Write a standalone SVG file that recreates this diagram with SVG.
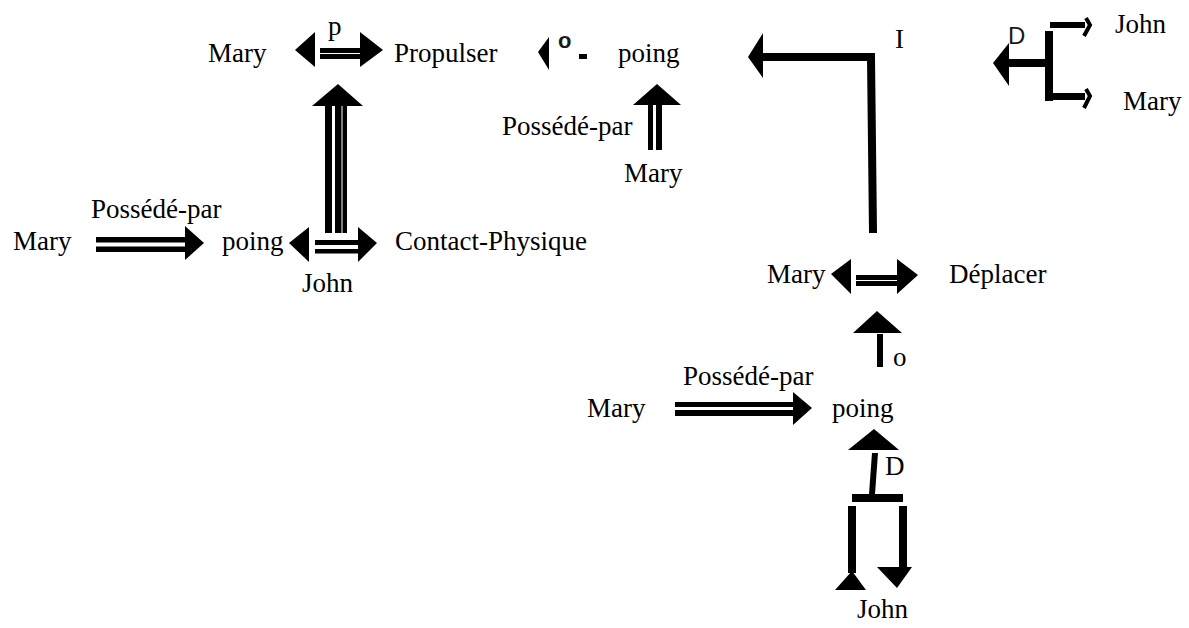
<svg xmlns="http://www.w3.org/2000/svg" width="1189" height="628" viewBox="0 0 1189 628">
<style>
text{font-family:"Liberation Serif","Times New Roman",serif;font-size:27px;fill:#000}
.sans{font-family:"Liberation Sans",Arial,sans-serif;font-size:24px;fill:#1a1a1a}
.sansb{font-family:"Liberation Sans",Arial,sans-serif;font-size:22px;font-weight:bold;fill:#1a1a1a}
#connectors polygon,#connectors rect{fill:#000}
.barb{fill:none;stroke:#000;stroke-width:4}
</style>
<rect width="1189" height="628" fill="#fff"/>
<g id="connectors">
  <g id="c-mary-propulser">
    <polygon points="295,50 315,32 315,67"/>
    <rect x="320" y="48" width="40" height="5"/>
    <rect x="320" y="54" width="40" height="5"/>
    <polygon points="360,32 383,50 360,67"/>
  </g>
  <g id="c-contact-propulser">
    <polygon points="338,84 312,106 363,106"/>
    <rect x="325" y="106" width="7" height="127"/>
    <rect x="335" y="106" width="6.5" height="127"/>
    <rect x="342.5" y="106" width="4.5" height="127"/>
  </g>
  <g id="c-mary-poing-left">
    <rect x="96" y="237" width="89" height="5.5"/>
    <rect x="96" y="246.5" width="89" height="5.5"/>
    <polygon points="185,226 204,243 185,260"/>
  </g>
  <g id="c-poing-contact">
    <polygon points="289,243 309,227 309,262"/>
    <rect x="315" y="240" width="43" height="5"/>
    <rect x="315" y="249" width="43" height="4.5"/>
    <polygon points="358,227 377,243 358,262"/>
  </g>
  <g id="c-o-poing">
    <polygon points="538,52 549,37 549,70"/>
    <rect x="579" y="54" width="8" height="5"/>
  </g>
  <g id="c-mary-poing-mid">
    <polygon points="657,84 633,105 681,105"/>
    <rect x="648" y="105" width="5" height="45"/>
    <rect x="656" y="105" width="6" height="45"/>
  </g>
  <g id="c-I">
    <polygon points="748,57 763,33 763,78"/>
    <rect x="763" y="53" width="112" height="8"/>
    <polygon points="867,57 875,57 877,233 869,233"/>
  </g>
  <g id="c-D-top">
    <polygon points="993,63 1009,43 1009,86"/>
    <rect x="1009" y="59" width="36" height="8"/>
    <rect x="1045" y="31" width="8" height="70"/>
    <rect x="1050" y="22" width="35" height="6"/>
    <rect x="1050" y="93" width="35" height="7"/>
    <polyline class="barb" points="1086,18 1090,25 1084,36"/>
    <polyline class="barb" points="1086,89 1090,96 1084,108"/>
  </g>
  <g id="c-mary-deplacer">
    <polygon points="831,274 851,259 851,294"/>
    <rect x="856" y="275" width="41" height="5"/>
    <rect x="856" y="281" width="41" height="5"/>
    <polygon points="897,259 918,275 897,294"/>
  </g>
  <g id="c-o-up">
    <polygon points="877,311 853,333 902,333"/>
    <rect x="877" y="334" width="6" height="33"/>
  </g>
  <g id="c-mary-poing-bottom">
    <rect x="675" y="402" width="118" height="5"/>
    <rect x="675" y="410" width="118" height="6"/>
    <polygon points="793,392 812,408 793,425"/>
  </g>
  <g id="c-D-bottom">
    <polygon points="874,429 848,450 899,450"/>
    <polygon points="872,453 878,453 875,494 869,494"/>
    <rect x="852" y="494" width="51" height="8"/>
    <rect x="848" y="506" width="8" height="67"/>
    <polygon points="852,571 835,590 866,590"/>
    <rect x="899" y="506" width="8" height="61"/>
    <polygon points="877,567 912,567 897,588"/>
  </g>
</g>
<g id="labels">
  <text x="328" y="35">p</text>
  <text class="sansb" x="558" y="48">o</text>
  <text x="895" y="48">I</text>
  <text class="sans" x="1008" y="44">D</text>
  <text x="502" y="135">Possédé-par</text>
  <text x="91" y="218">Possédé-par</text>
  <text x="893" y="366">o</text>
  <text x="683" y="385">Possédé-par</text>
  <text x="885" y="475">D</text>
</g>
<g id="n-mary-1"><text x="208" y="62">Mary</text></g>
<g id="n-propulser"><text x="394" y="62">Propulser</text></g>
<g id="n-poing-1"><text x="618" y="62">poing</text></g>
<g id="n-john-1"><text x="1115" y="33">John</text></g>
<g id="n-mary-2"><text x="1123" y="110">Mary</text></g>
<g id="n-mary-3"><text x="624" y="182">Mary</text></g>
<g id="n-mary-4"><text x="13" y="250">Mary</text></g>
<g id="n-poing-2"><text x="222" y="250">poing</text></g>
<g id="n-john-2"><text x="302" y="292">John</text></g>
<g id="n-contact"><text x="395" y="250">Contact-Physique</text></g>
<g id="n-mary-5"><text x="767" y="283">Mary</text></g>
<g id="n-deplacer"><text x="949" y="283">Déplacer</text></g>
<g id="n-mary-6"><text x="587" y="417">Mary</text></g>
<g id="n-poing-3"><text x="832" y="417">poing</text></g>
<g id="n-john-3"><text x="857" y="618">John</text></g>
</svg>
